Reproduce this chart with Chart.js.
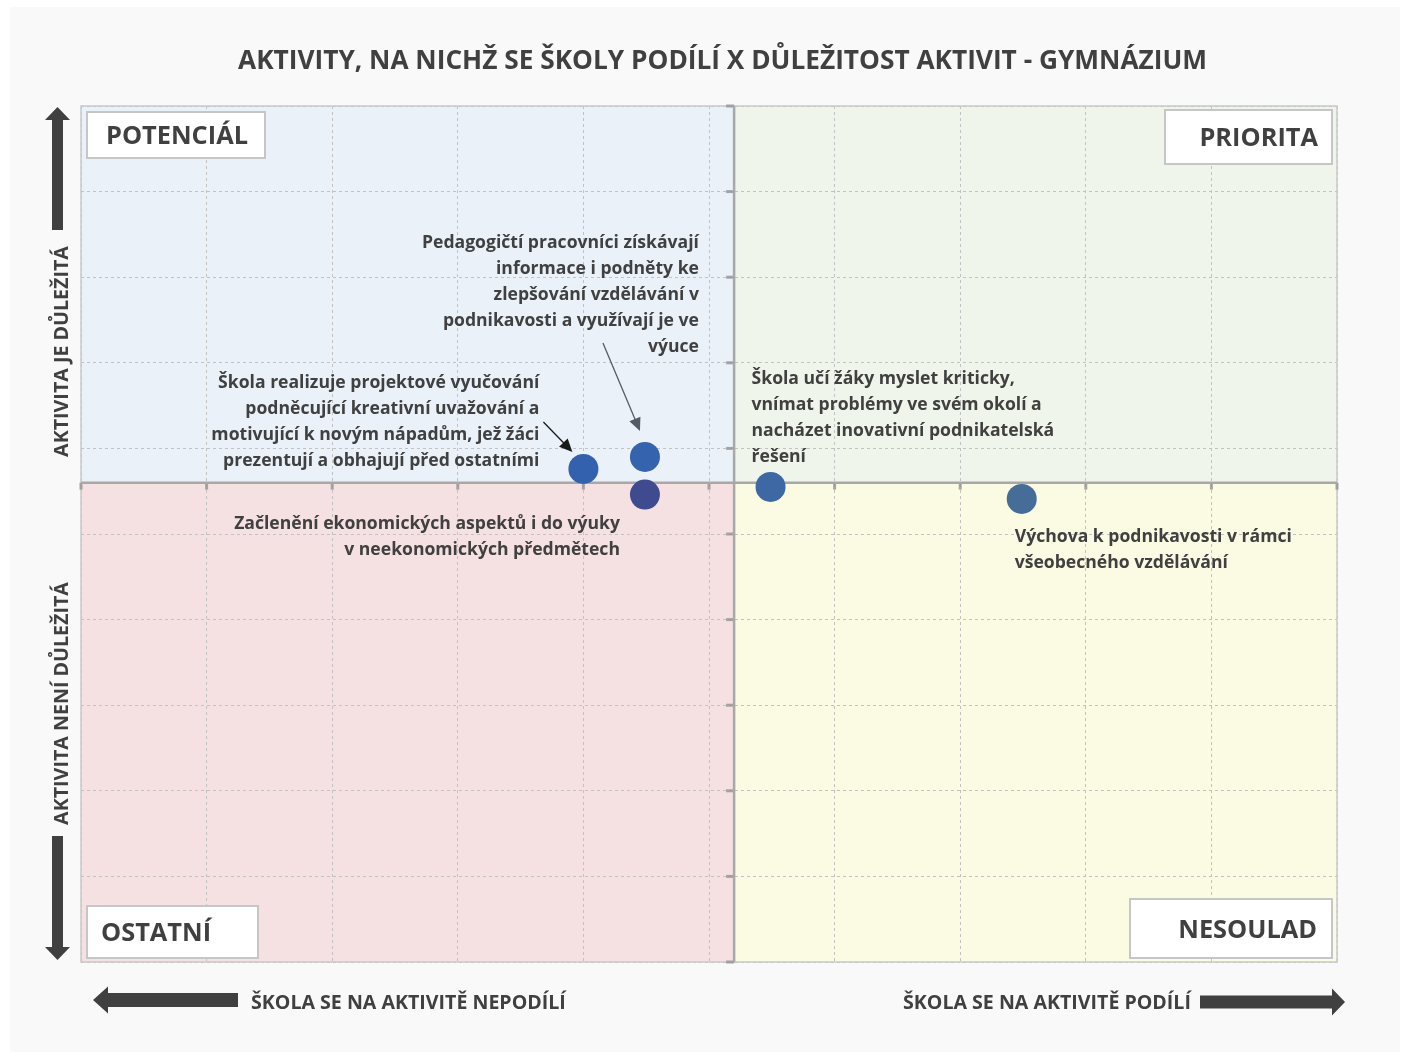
<!DOCTYPE html>
<html>
<head>
<meta charset="utf-8">
<script src="https://cdn.jsdelivr.net/npm/chart.js@4.4.0/dist/chart.umd.min.js"></script>
<style>
  html, body { margin: 0; padding: 0; background: #fff; }
  #wrap { width: 1403px; height: 1056px; position: relative; }
</style>
</head>
<body>
<div id="wrap"><canvas id="quadChart"></canvas></div>
<script>
'use strict';

/**
 * data
 */

const chartTitle = "AKTIVITY, NA NICHŽ SE ŠKOLY PODÍLÍ X DŮLEŽITOST AKTIVIT - GYMNÁZIUM";

const activityLabels = [
  ["Škola realizuje projektové vyučování", "podněcující kreativní uvažování a", "motivující k novým nápadům, jež žáci", "prezentují a obhajují před ostatními"],
  ["Pedagogičtí pracovníci získávají", "informace i podněty ke", "zlepšování vzdělávání v", "podnikavosti a využívají je ve", "výuce"],
  ["Začlenění ekonomických aspektů i do výuky", "v neekonomických předmětech"],
  ["Škola učí žáky myslet kriticky,", "vnímat problémy ve svém okolí a", "nacházet inovativní podnikatelská", "řešení"],
  ["Výchova k podnikavosti v rámci", "všeobecného vzdělávání"]
];

// x = škola se podílí, y = důležitost
const participation = [40.0, 44.9, 44.9, 54.9, 74.9];
const importance = [57.6, 59.0, 54.6, 55.5, 54.1];

const xCross = 52;
const yCross = 56;

const quadrantNames = ["POTENCIÁL", "PRIORITA", "OSTATNÍ", "NESOULAD"];
const yAxisNames = ["AKTIVITA JE DŮLEŽITÁ", "AKTIVITA NENÍ DŮLEŽITÁ"];
const xAxisNames = ["ŠKOLA SE NA AKTIVITĚ NEPODÍLÍ", "ŠKOLA SE NA AKTIVITĚ PODÍLÍ"];


/**
 * styles / layout
 */

const FONT = '"Open Sans", "DejaVu Sans", sans-serif';
const TEXT = '#404040';
const pointColors = ['#3461AD', '#3563AE', '#3F4A8F', '#3D68A4', '#466C98'];
const quadrantColors = ['#EAF1F9', '#EFF5EB', '#F5E0E2', '#FBFAE2'];
const yShift = 2; // baseline correction for the font

// label offsets relative to the point pixel
const labelLayout = [
  { dx: -44, dy: -88, align: 'right', arrow: [-40, -47, -11, -17], arrowColor: '#1a1a1a' },
  { dx: 54, dy: -216, align: 'right', arrow: [-42, -114, -5, -26], arrowColor: '#555a66' },
  { dx: -25, dy: 27, align: 'right' },
  { dx: -19, dy: -110, align: 'left' },
  { dx: -7, dy: 36, align: 'left' }
];
const lineGap = 26;

function fitSize(ctx, text, width) {
  ctx.font = `bold 100px ${FONT}`;
  return 100 * width / ctx.measureText(text).width;
}

function blockArrow(ctx, tailX, tailY, tipX, tipY, shaft, head, headLen) {
  const ang = Math.atan2(tipY - tailY, tipX - tailX);
  const len = Math.hypot(tipX - tailX, tipY - tailY);
  ctx.save();
  ctx.translate(tailX, tailY);
  ctx.rotate(ang);
  ctx.beginPath();
  ctx.moveTo(0, -shaft / 2);
  ctx.lineTo(len - headLen, -shaft / 2);
  ctx.lineTo(len - headLen, -head / 2);
  ctx.lineTo(len, 0);
  ctx.lineTo(len - headLen, head / 2);
  ctx.lineTo(len - headLen, shaft / 2);
  ctx.lineTo(0, shaft / 2);
  ctx.closePath();
  ctx.fillStyle = TEXT;
  ctx.fill();
  ctx.restore();
}

function thinArrow(ctx, x1, y1, x2, y2, color) {
  const ang = Math.atan2(y2 - y1, x2 - x1);
  ctx.save();
  ctx.strokeStyle = color;
  ctx.fillStyle = color;
  ctx.lineWidth = 1.3;
  ctx.beginPath();
  ctx.moveTo(x1, y1);
  ctx.lineTo(x2 - 10 * Math.cos(ang), y2 - 10 * Math.sin(ang));
  ctx.stroke();
  ctx.translate(x2, y2);
  ctx.rotate(ang);
  ctx.beginPath();
  ctx.moveTo(0, 0);
  ctx.lineTo(-13, -6);
  ctx.lineTo(-13, 6);
  ctx.closePath();
  ctx.fill();
  ctx.restore();
}

function labelBox(ctx, x, y, w, h, text, size, align, pad) {
  ctx.fillStyle = '#ffffff';
  ctx.fillRect(x, y, w, h);
  ctx.strokeStyle = '#C6C6C6';
  ctx.lineWidth = 2;
  ctx.strokeRect(x, y, w, h);
  ctx.font = `bold ${size}px ${FONT}`;
  ctx.fillStyle = TEXT;
  ctx.textBaseline = 'middle';
  ctx.textAlign = align;
  ctx.fillText(text, align === 'left' ? x + pad : x + w - pad, y + h / 2 + 2);
}

const quadrantPlugin = {
  id: 'quadrants',
  beforeDraw(chart) {
    const { ctx, chartArea: a, scales } = chart;
    const cx = scales.x.getPixelForValue(xCross);
    const cy = scales.y.getPixelForValue(yCross);
    ctx.save();
    ctx.fillStyle = '#ffffff';
    ctx.fillRect(0, 0, chart.width, chart.height);
    ctx.fillStyle = '#F9F9F9';
    ctx.fillRect(10, 7, 1390, 1045);
    ctx.fillStyle = quadrantColors[0];
    ctx.fillRect(a.left, a.top, cx - a.left, cy - a.top);
    ctx.fillStyle = quadrantColors[1];
    ctx.fillRect(cx, a.top, a.right - cx, cy - a.top);
    ctx.fillStyle = quadrantColors[2];
    ctx.fillRect(a.left, cy, cx - a.left, a.bottom - cy);
    ctx.fillStyle = quadrantColors[3];
    ctx.fillRect(cx, cy, a.right - cx, a.bottom - cy);
    ctx.restore();
  },
  beforeDatasetsDraw(chart) {
    const { ctx, chartArea: a, scales } = chart;
    const cx = scales.x.getPixelForValue(xCross);
    const cy = scales.y.getPixelForValue(yCross);
    ctx.save();
    // frame
    ctx.strokeStyle = '#C9C9C9';
    ctx.lineWidth = 1.5;
    ctx.strokeRect(a.left, a.top, a.right - a.left, a.bottom - a.top);
    // tick marks on the crossing axes
    ctx.strokeStyle = 'rgba(150,150,150,0.85)';
    ctx.lineWidth = 3;
    scales.y.ticks.forEach(t => {
      const py = scales.y.getPixelForValue(t.value);
      ctx.beginPath();
      ctx.moveTo(cx - 8, py);
      ctx.lineTo(cx, py);
      ctx.stroke();
    });
    scales.x.ticks.forEach(t => {
      const px = scales.x.getPixelForValue(t.value);
      ctx.beginPath();
      ctx.moveTo(px, cy);
      ctx.lineTo(px, cy + 7);
      ctx.stroke();
    });
    // crossing axes
    ctx.strokeStyle = '#A8A8A8';
    ctx.lineWidth = 2.5;
    ctx.beginPath();
    ctx.moveTo(cx, a.top);
    ctx.lineTo(cx, a.bottom);
    ctx.moveTo(a.left, cy);
    ctx.lineTo(a.right, cy);
    ctx.stroke();
    ctx.restore();
  },
  afterDatasetsDraw(chart) {
    const { ctx, chartArea: a, scales } = chart;
    ctx.save();

    // title
    let s = fitSize(ctx, chartTitle, 969);
    ctx.font = `bold ${s}px ${FONT}`;
    ctx.fillStyle = TEXT;
    ctx.textAlign = 'center';
    ctx.textBaseline = 'middle';
    ctx.fillText(chartTitle, 722.5, 60 + yShift);

    // activity labels
    const annSize = fitSize(ctx, activityLabels[2][0], 386);
    activityLabels.forEach((lines, i) => {
      const px = scales.x.getPixelForValue(participation[i]);
      const py = scales.y.getPixelForValue(importance[i]);
      const L = labelLayout[i];
      ctx.font = `bold ${annSize}px ${FONT}`;
      ctx.fillStyle = TEXT;
      ctx.textAlign = L.align;
      ctx.textBaseline = 'middle';
      lines.forEach((ln, j) => ctx.fillText(ln, px + L.dx, py + L.dy + j * lineGap + yShift));
      if (L.arrow) {
        thinArrow(ctx, px + L.arrow[0], py + L.arrow[1], px + L.arrow[2], py + L.arrow[3], L.arrowColor);
      }
    });

    // quadrant boxes
    const qs = fitSize(ctx, quadrantNames[0], 142);
    labelBox(ctx, a.left + 6, a.top + 6, 178, 46, quadrantNames[0], qs, 'left', 19);
    labelBox(ctx, a.right - 172, a.top + 4, 167, 54, quadrantNames[1], qs, 'right', 14);
    labelBox(ctx, a.left + 6, a.bottom - 56, 171, 52, quadrantNames[2], qs, 'left', 14);
    labelBox(ctx, a.right - 207, a.bottom - 63, 202, 59, quadrantNames[3], qs, 'right', 15);

    // side arrows and texts
    blockArrow(ctx, 57.5, 230, 57.5, 107, 11, 25, 13);
    blockArrow(ctx, 57.5, 836, 57.5, 960, 11, 25, 13);
    blockArrow(ctx, 238, 1000, 93, 1000, 14, 27, 15);
    blockArrow(ctx, 1200, 1002, 1345, 1002, 13, 27, 13);

    const ys = fitSize(ctx, yAxisNames[1], 243);
    ctx.font = `bold ${ys}px ${FONT}`;
    ctx.fillStyle = TEXT;
    ctx.textAlign = 'center';
    ctx.textBaseline = 'middle';
    [[yAxisNames[0], 351.5], [yAxisNames[1], 703.5]].forEach(([t, y]) => {
      ctx.save();
      ctx.translate(60 + yShift, y);
      ctx.rotate(-Math.PI / 2);
      ctx.fillText(t, 0, 0);
      ctx.restore();
    });

    const xs = fitSize(ctx, xAxisNames[0], 315);
    ctx.font = `bold ${xs}px ${FONT}`;
    ctx.textAlign = 'left';
    ctx.fillText(xAxisNames[0], 251, 1001 + yShift);
    ctx.fillText(xAxisNames[1], 903, 1001 + yShift);

    ctx.restore();
  }
};

new Chart("quadChart", {
  type: "scatter",
  data: {
    datasets: [{
      data: participation.map((x, i) => ({ x: x, y: importance[i] })),
      backgroundColor: pointColors,
      borderWidth: 0,
      pointRadius: 15,
      pointHoverRadius: 15
    }]
  },
  options: {
    responsive: true,
    maintainAspectRatio: false,
    animation: false,
    events: [],
    layout: { padding: { left: 81, right: 66, top: 106, bottom: 94 } },
    plugins: {
      legend: { display: false },
      tooltip: { enabled: false }
    },
    scales: {
      x: {
        type: 'linear', min: 0, max: 100,
        ticks: { display: false, stepSize: 10 },
        grid: { color: '#C2C2C2', lineWidth: 1, drawTicks: false },
        border: { display: false, dash: [3, 3] }
      },
      y: {
        type: 'linear', min: 0, max: 100,
        ticks: { display: false, stepSize: 10 },
        grid: { color: '#C2C2C2', lineWidth: 1, drawTicks: false },
        border: { display: false, dash: [3, 3] }
      }
    }
  },
  plugins: [quadrantPlugin]
});
</script>
</body>
</html>
